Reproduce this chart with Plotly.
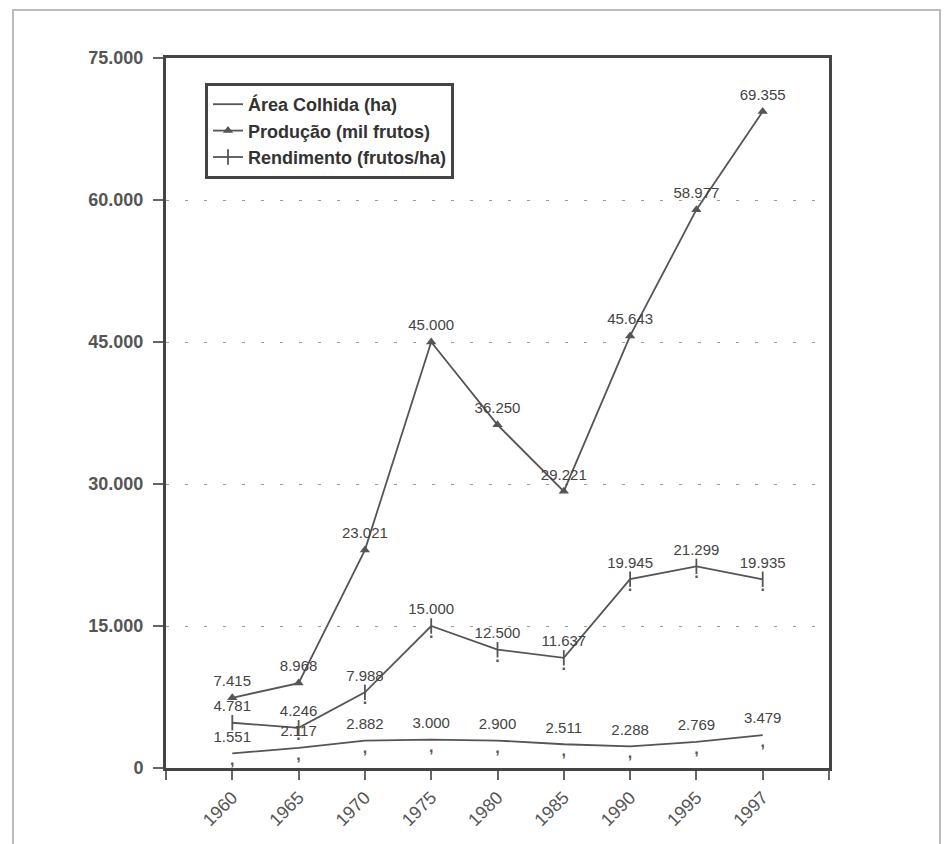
import plotly.graph_objects as go

# Série histórica
anos = ["1960", "1965", "1970", "1975", "1980", "1985", "1990", "1995", "1997"]
area_colhida = [1551, 2117, 2882, 3000, 2900, 2511, 2288, 2769, 3479]
producao = [7415, 8968, 23021, 45000, 36250, 29221, 45643, 58977, 69355]
rendimento = [4781, 4246, 7988, 15000, 12500, 11637, 19945, 21299, 19935]

y_ticks = [0, 15000, 30000, 45000, 60000, 75000]

# Sinais impressos sob os pontos de cada série
sinais_area = [","] * len(anos)
sinais_rendimento = [""] + ["."] * (len(anos) - 1)

x = list(range(len(anos)))
x_tickvals = list(range(-1, len(anos) + 1))
x_ticktext = [""] + anos + [""]

FONT = "Arial, Liberation Sans, sans-serif"
LINE = "#555555"
TEXT = "#444444"
label_font = dict(family=FONT, size=15, color=TEXT)
mark_font = dict(family=FONT, size=16, color="#555555", weight="bold")

fig = go.Figure()

fig.add_trace(go.Scatter(
    x=x, y=area_colhida, name="Área Colhida (ha)", mode="lines",
    line=dict(color=LINE, width=1.8),
))
fig.add_trace(go.Scatter(
    x=x, y=producao, name="Produção (mil frutos)", mode="lines+markers",
    line=dict(color=LINE, width=1.8),
    marker=dict(symbol="triangle-up", size=9, color=LINE),
))
fig.add_trace(go.Scatter(
    x=x, y=rendimento, name="Rendimento (frutos/ha)", mode="lines+markers",
    line=dict(color=LINE, width=1.8),
    marker=dict(symbol="line-ns", size=11, line=dict(color=LINE, width=1.8)),
))

# Rótulos de valores acima de cada ponto (marcador invisível afasta o texto)
for serie in (area_colhida, producao, rendimento):
    fig.add_trace(go.Scatter(
        x=x, y=serie, mode="markers+text", texttemplate="%{y:,d}",
        textposition="top center", textfont=label_font,
        marker=dict(size=11, opacity=0),
        showlegend=False, hoverinfo="skip",
    ))

# Pequenos sinais sob os pontos
fig.add_trace(go.Scatter(
    x=x, y=area_colhida, mode="text", text=sinais_area,
    textposition="bottom center", textfont=mark_font,
    showlegend=False, hoverinfo="skip",
))
fig.add_trace(go.Scatter(
    x=x, y=rendimento, mode="text", text=sinais_rendimento,
    textposition="bottom center", textfont=mark_font,
    showlegend=False, hoverinfo="skip",
))

fig.update_layout(
    width=951, height=844,
    margin=dict(l=166, r=122, t=58, b=76),
    paper_bgcolor="white", plot_bgcolor="white",
    separators=",.",
    font=dict(family=FONT, color=TEXT),
    showlegend=True,
    legend=dict(
        x=0.0588, y=0.9648, xanchor="left", yanchor="top",
        bordercolor="#444444", borderwidth=3, bgcolor="white",
        font=dict(family=FONT, size=18, color="#333333", weight="bold"),
        itemwidth=30,
    ),
    xaxis=dict(
        range=[-1, len(anos)], tickmode="array", tickvals=x_tickvals, ticktext=x_ticktext,
        tickangle=-45, tickfont=dict(family=FONT, size=18, color="#555555"),
        showline=True, linewidth=3, linecolor="#444444", mirror=True,
        ticks="outside", ticklen=9, tickwidth=1.5, tickcolor="#666666",
        showgrid=False, zeroline=False,
    ),
    yaxis=dict(
        range=[0, 75000], tickmode="array", tickvals=y_ticks, tickformat=",d",
        tickfont=dict(family=FONT, size=18, color="#555555", weight="bold"),
        showline=True, linewidth=3, linecolor="#444444", mirror=True,
        ticks="outside", ticklen=10, tickwidth=1.5, tickcolor="#666666",
        ticklabelstandoff=6,
        showgrid=True, gridcolor="#9a9a9a", gridwidth=1, griddash="3px,16px",
        zeroline=False,
    ),
    shapes=[dict(
        type="rect", xref="paper", yref="paper",
        x0=-0.2308, x1=1.1674, y0=-0.1155, y1=1.0676,
        line=dict(color="#bbbbbb", width=2), layer="below",
    )],
)

fig.write_html("out.html")
